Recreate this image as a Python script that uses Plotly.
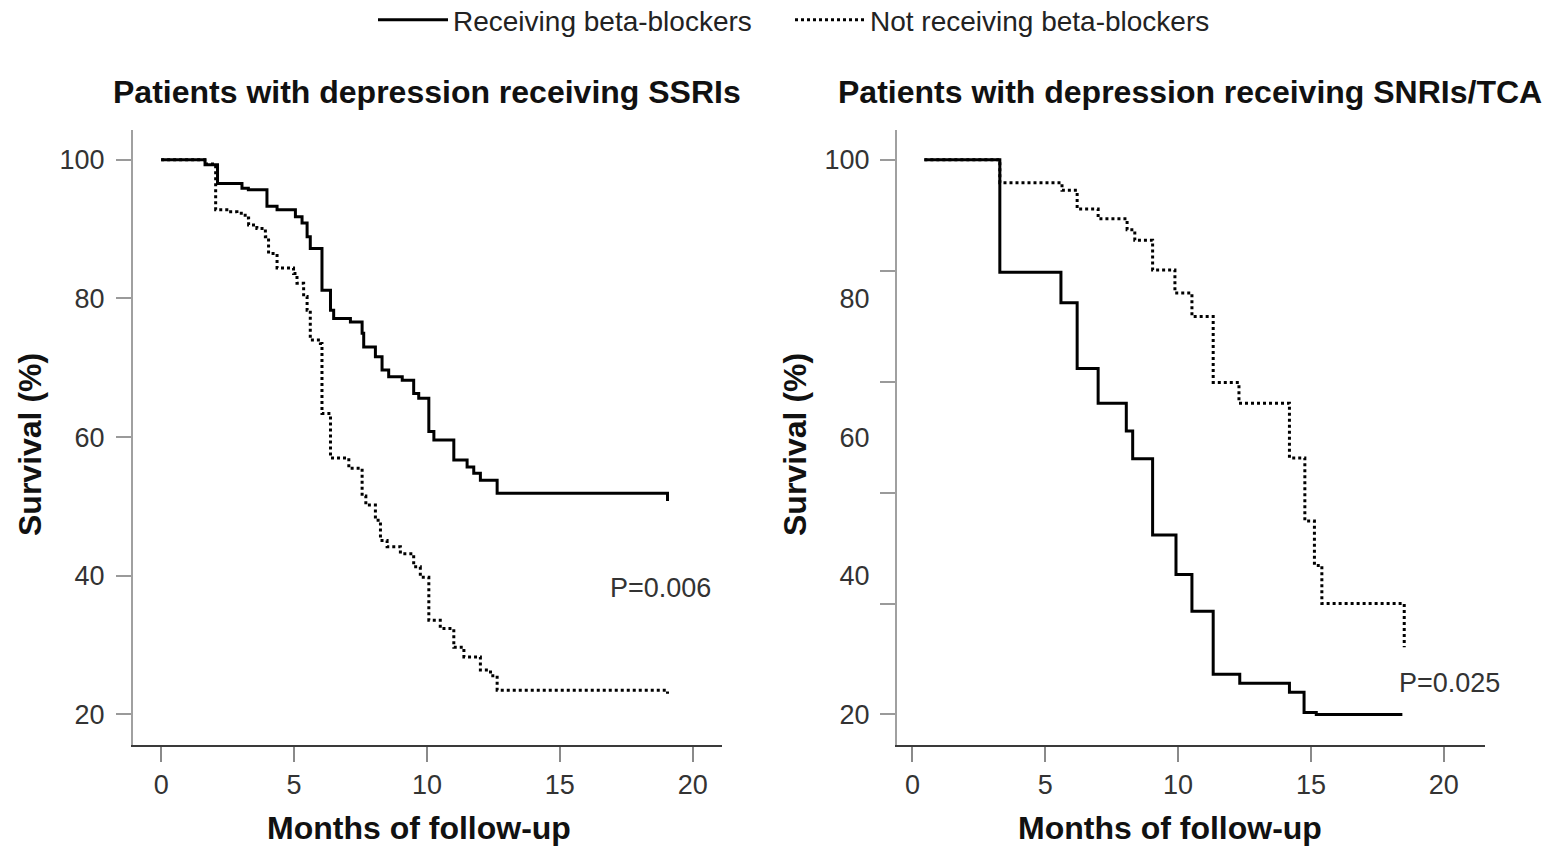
import plotly.graph_objects as go

# ---- data ----
ssri_bb_months = [0, 1.65, 2.12, 3.04, 3.28, 3.98, 4.36, 5.05, 5.3, 5.49, 5.61, 6.05, 6.37, 6.49,
                  7.12, 7.56, 7.62, 8.06, 8.31, 8.56, 9.07, 9.5, 9.69, 10.07, 10.26, 11.01, 11.51,
                  11.76, 12.01, 12.64, 19.05]
ssri_bb_surv = [100, 99.3, 96.6, 95.9, 95.7, 93.3, 92.8, 91.8, 90.9, 88.9, 87.2, 81.2, 78.3, 77.1,
                76.6, 75.0, 73.0, 71.6, 69.7, 68.7, 68.2, 66.3, 65.6, 60.8, 59.6, 56.7, 55.7,
                54.8, 53.8, 51.9, 50.8]

ssri_nobb_months = [0, 1.7, 2.05, 2.47, 2.85, 3.16, 3.29, 3.6, 3.92, 4.04, 4.36, 4.98, 5.11, 5.36,
                    5.49, 5.61, 5.99, 6.05, 6.37, 7.06, 7.56, 7.7, 8.06, 8.25, 8.5, 9.0, 9.5, 9.75,
                    10.07, 10.5, 11.01, 11.39, 12.01, 12.39, 12.64, 19.05]
ssri_nobb_surv = [100, 99.4, 92.8, 92.5, 92.3, 91.6, 90.6, 90.1, 88.9, 86.5, 84.4, 83.6, 82.2, 80.3,
                  78.3, 74.0, 73.5, 63.4, 57.0, 55.5, 51.5, 50.2, 48.0, 45.1, 44.2, 43.2, 41.3, 39.8,
                  33.6, 32.4, 29.7, 28.3, 26.4, 25.6, 23.5, 23.0]

snri_bb_months = [0.45, 3.29, 5.59, 6.2, 6.99, 8.05, 8.29, 9.04, 9.92, 10.52, 11.32, 12.32, 14.19,
                  14.74, 15.2, 18.44]
snri_bb_surv = [100, 83.8, 79.4, 69.9, 64.9, 60.9, 56.9, 45.9, 40.2, 34.9, 25.8, 24.5, 23.2,
                20.3, 20.0, 20.0]

snri_nobb_months = [0.45, 3.29, 5.63, 6.2, 6.99, 8.08, 8.37, 9.04, 9.88, 10.52, 11.32, 12.29, 14.19,
                    14.77, 15.13, 15.41, 18.51]
snri_nobb_surv = [100, 96.7, 95.6, 92.9, 91.5, 89.9, 88.4, 84.1, 80.8, 77.4, 67.9, 64.9, 57.0,
                  47.9, 41.5, 36.0, 29.7]

x_ticks = [0, 5, 10, 15, 20]
y_labels = [20, 40, 60, 80, 100]
right_y_tickmarks = [20, 36, 52, 68, 84, 100]

series_names = ["Receiving beta-blockers", "Not receiving beta-blockers"]
panel_titles = ["Patients with depression receiving SSRIs",
                "Patients with depression receiving SNRIs/TCA"]
p_values = ["P=0.006", "P=0.025"]

FONT = "Liberation Sans, Arial, sans-serif"

fig = go.Figure()

def add_curve(x, y, dash, name, xa, ya, show, legend):
    fig.add_trace(go.Scatter(
        x=x, y=y, mode="lines", line=dict(shape="hv", color="black", width=3, dash=dash),
        name=name, xaxis=xa, yaxis=ya, showlegend=show, legendgroup=name, legend=legend))

add_curve(ssri_bb_months, ssri_bb_surv, "solid", series_names[0], "x", "y", True, "legend")
add_curve(ssri_nobb_months, ssri_nobb_surv, "dot", series_names[1], "x", "y", True, "legend2")
add_curve(snri_bb_months, snri_bb_surv, "solid", series_names[0], "x2", "y2", False, "legend")
add_curve(snri_nobb_months, snri_nobb_surv, "dot", series_names[1], "x2", "y2", False, "legend2")
# carrier for the label-only overlay axis of the right panel
fig.add_trace(go.Scatter(x=[], y=[], xaxis="x2", yaxis="y3", showlegend=False, hoverinfo="skip"))

YR = [15.6, 104.3]
ydom = [101 / 846, 716 / 846]
TICKFONT = dict(family=FONT, size=27, color="#333333")

xcommon = dict(tickvals=x_ticks, ticks="outside", ticklen=15, tickwidth=2, tickcolor="#8a8a8a",
               showline=True, linecolor="#3a3a3a", linewidth=2, showgrid=False, zeroline=False,
               tickfont=TICKFONT)
ycommon = dict(ticks="outside", ticklen=15, tickwidth=2, tickcolor="#9a9a9a",
               showline=True, linecolor="#a0a0a0", linewidth=2, showgrid=False, zeroline=False,
               tickfont=TICKFONT, range=YR, domain=ydom, ticklabelstandoff=6)

legend_common = dict(orientation="h", xanchor="left", y=1 + 5 / 846, yanchor="top",
                     font=dict(family=FONT, size=28, color="#222222"), itemwidth=70,
                     bgcolor="rgba(0,0,0,0)")

fig.update_layout(
    width=1546, height=846, margin=dict(l=0, r=0, t=0, b=0, autoexpand=False),
    paper_bgcolor="white", plot_bgcolor="white",
    xaxis=dict(domain=[133 / 1546, 722 / 1546], range=[-1.06, 21.1], anchor="y", **xcommon),
    yaxis=dict(anchor="x", tickvals=y_labels, **ycommon),
    xaxis2=dict(domain=[897 / 1546, 1485 / 1546], range=[-0.58, 21.55], anchor="y2", **xcommon),
    yaxis2=dict(anchor="x2", tickvals=right_y_tickmarks, showticklabels=False, **ycommon),
    yaxis3=dict(anchor="x2", overlaying="y2", tickvals=y_labels, range=YR, domain=ydom,
                ticks="outside", ticklen=15, tickcolor="rgba(0,0,0,0)", showline=False,
                showgrid=False, zeroline=False, ticklabelstandoff=6, tickfont=TICKFONT),
    legend=dict(x=373 / 1546, **legend_common),
    legend2=dict(x=790 / 1546, **legend_common),
    showlegend=True,
)

ann = []
for cx, t in [(427, panel_titles[0]), (1190, panel_titles[1])]:
    ann.append(dict(x=cx / 1546, y=(846 - 92) / 846, xref="paper", yref="paper",
                    text="<b>" + t + "</b>", showarrow=False, xanchor="center", yanchor="middle",
                    font=dict(family=FONT, size=32, color="#111111")))
for cx in [419, 1170]:
    ann.append(dict(x=cx / 1546, y=(846 - 828) / 846, xref="paper", yref="paper",
                    text="<b>Months of follow-up</b>", showarrow=False, xanchor="center",
                    yanchor="middle", font=dict(family=FONT, size=32, color="#111111")))
for cx in [30, 795]:
    ann.append(dict(x=cx / 1546, y=(846 - 445) / 846, xref="paper", yref="paper",
                    text="<b>Survival (%)</b>", showarrow=False, textangle=-90, xanchor="center",
                    yanchor="middle", font=dict(family=FONT, size=32, color="#111111")))
ann.append(dict(x=18.8, y=38.2, xref="x", yref="y", text=p_values[0], showarrow=False,
                font=dict(family=FONT, size=27, color="#333333")))
ann.append(dict(x=20.2, y=24.6, xref="x2", yref="y2", text=p_values[1], showarrow=False,
                font=dict(family=FONT, size=27, color="#333333")))
fig.update_layout(annotations=ann)

fig.write_html("out.html")
